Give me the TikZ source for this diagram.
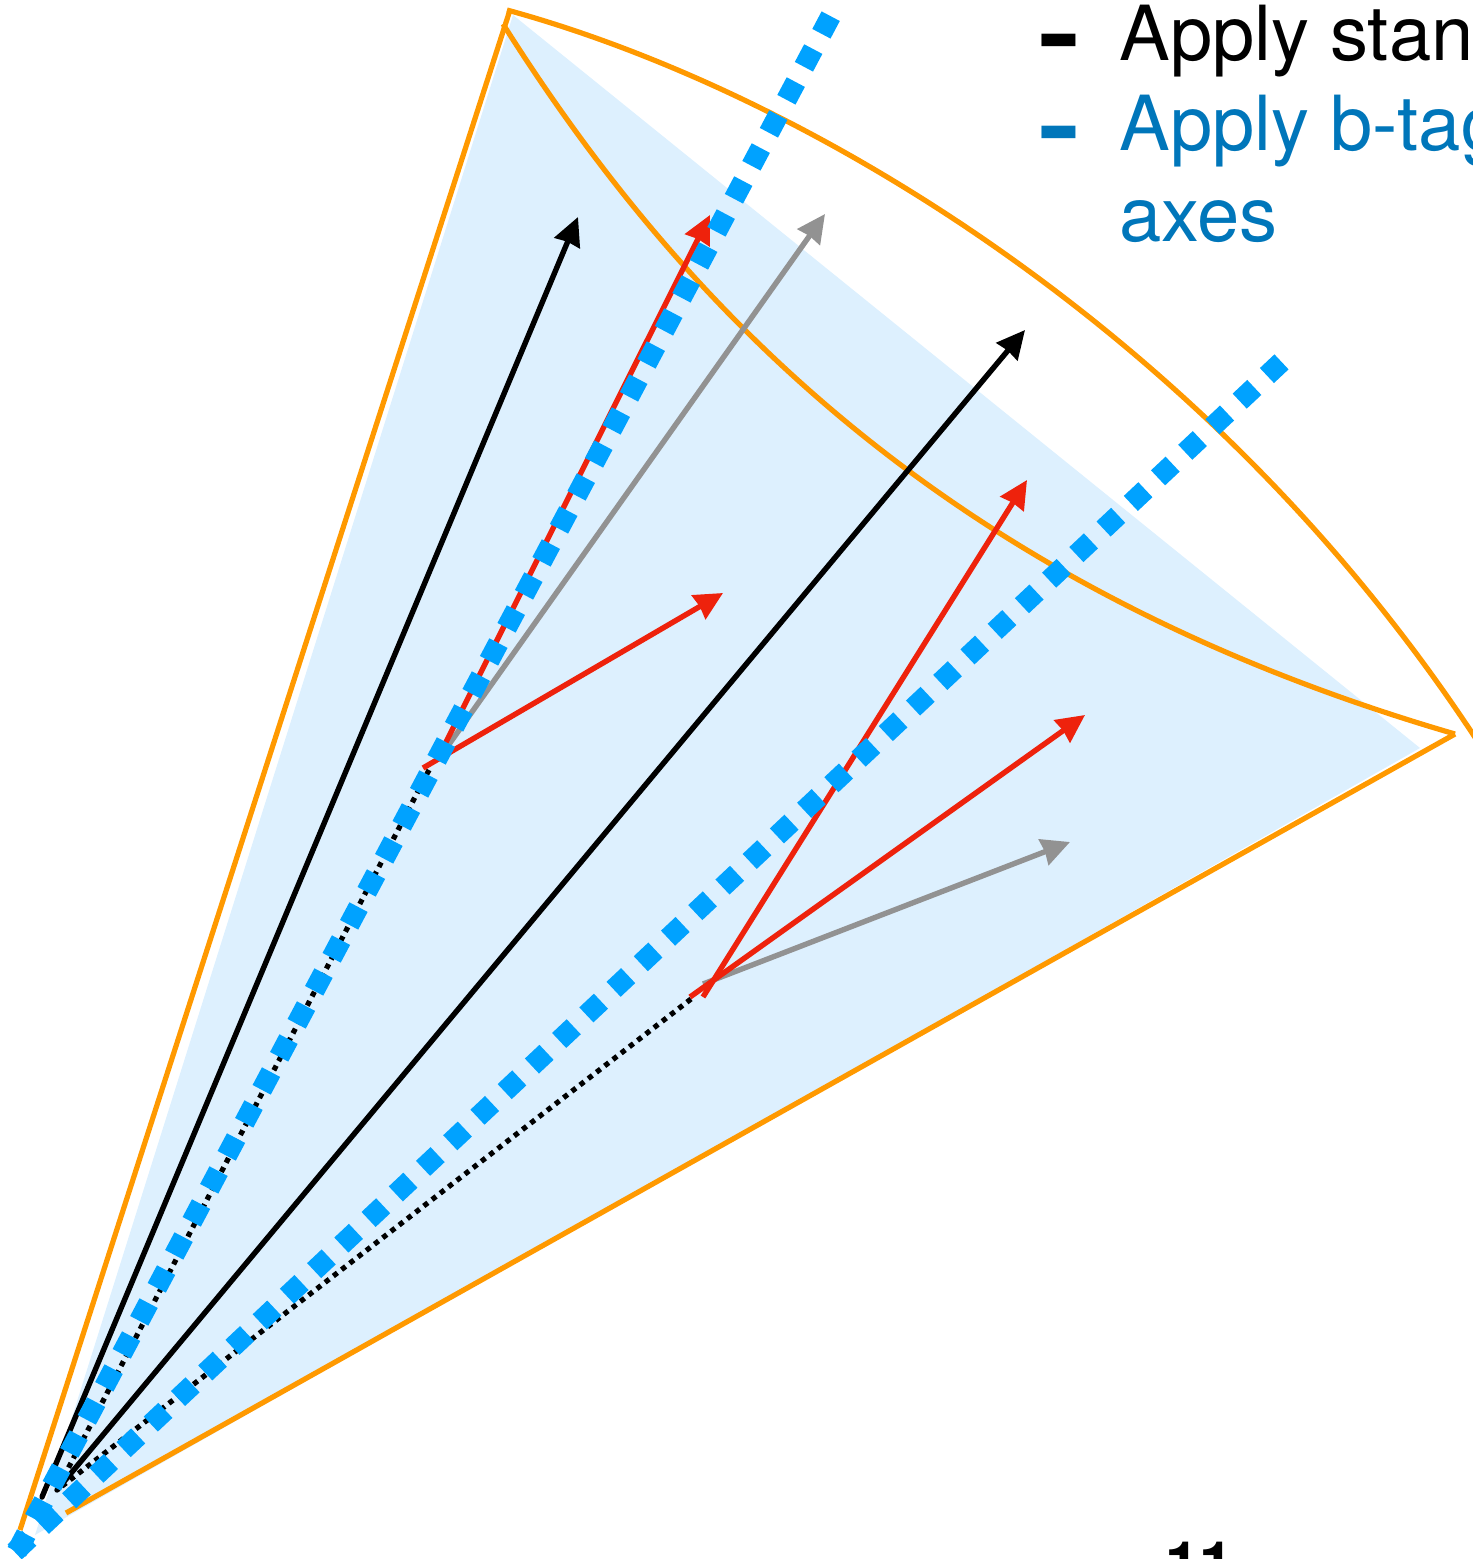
\documentclass[tikz,border=0pt]{standalone}
\usepackage{fontspec}
\usepackage{graphicx}
\setmainfont{TeX Gyre Heros}
\usetikzlibrary{positioning,arrows.meta}
\definecolor{conefill}{HTML}{DDF0FE}
\definecolor{coneline}{HTML}{FF9900}
\definecolor{axisblue}{HTML}{00A2FF}
\definecolor{textblue}{HTML}{0076BA}
\definecolor{arrowred}{HTML}{EE220C}
\definecolor{arrowgray}{HTML}{929292}

\begin{document}
\begin{tikzpicture}[
  x=0.5pt, y=-0.5pt,
  cone/.style={draw=coneline, line width=2.6pt},
  tip/.style={-{Stealth[length=14pt, width=13.5pt, inset=0.6pt]}, line width=2.7pt},
  jetk/.style={tip, black, line cap=round},
  jetr/.style={tip, arrowred},
  jetg/.style={tip, arrowgray},
  track/.style={black, line width=2.6pt, dash pattern=on 2.6pt off 2.6pt},
  axis/.style={axisblue, line width=10.3pt, dash pattern=on 10pt off 8.675pt},
  txt/.style={anchor=base west, inner sep=0pt, font=\fontsize{38}{45}\selectfont},
  bar/.style={anchor=base west, inner sep=0pt, font=\fontsize{30}{36}\selectfont\bfseries},
]
  \useasboundingbox (0,0) rectangle (1473,1559);
  \clip (0,0) rectangle (1473,1559);

  %=================== points ===================
  \coordinate (apex) at (35,1535);
  \coordinate (filltop) at (513,15);
  \coordinate (fillright) at (1420,748);
  \coordinate (leftlow) at (20,1530);
  \coordinate (lefttop) at (510,10);
  \coordinate (toparc) at (507,10);
  \coordinate (toparcend) at (1480,745);
  \coordinate (lowarc) at (503,24);
  \coordinate (rightpt) at (1455,734);
  \coordinate (rightlow) at (66,1513);
  \coordinate (jetorigin) at (57,1490);
  \coordinate (vtxa) at (429,770);
  \coordinate (vtxb) at (691,999);
  \coordinate (axisstarta) at (16.8,1551.8);
  \coordinate (axisenda) at (830.7,16.2);
  \coordinate (axisstartb) at (14.7,1551.9);
  \coordinate (axisendb) at (1282.3,361.1);

  %=================== cone ===================
  \fill[conefill] (apex) -- (filltop) -- (fillright) -- cycle;
  \draw[cone] (leftlow) -- (lefttop);
  \draw[cone] (toparc) .. controls (800,90) and (1210,330) .. (toparcend);
  \draw[cone] (lowarc) .. controls (690,320) and (960,590) .. (rightpt);
  \draw[cone] (rightpt) -- (rightlow);

  %=================== jets ===================
  \draw[track] (vtxa) -- (jetorigin);
  \draw[track] (vtxb) -- (jetorigin);
  \draw[jetk] (42,1497) -- (578,217);
  \draw[jetk] (jetorigin) -- (1025,330);
  \draw[jetg] (445,750) -- (825,214);
  \draw[jetr] (441,752) -- (710,215);
  \draw[jetr] (423,768) -- (723,593);
  \draw[jetg] (703,984) -- (1070,842);
  \draw[jetr] (703,997) -- (1027,480);
  \draw[jetr] (690,997) -- (1085,715);

  %=================== axes ===================
  \draw[axis] (axisstarta) -- (axisenda);
  \draw[axis] (axisstartb) -- (axisendb);

  %=================== text ===================
  \node[bar] (barstd) at (1042,71) {\scalebox{1}[2]{–}};
  \node[txt] (lblstd) at (1119,60) {Apply stan};
  \node[bar, text=textblue] (barbtag) at (1042,163) {\scalebox{1}[2]{–}};
  \node[txt, text=textblue] (lblbtag) at (1119,150) {Apply b-tag};
  \node[txt, text=textblue] (lblaxes) at (1119,241) {axes};
  \node[anchor=base west, inner sep=0pt, font=\fontsize{30.6}{36}\selectfont\bfseries] (pagenum) at (1165,1585) {11};
\end{tikzpicture}
\end{document}
